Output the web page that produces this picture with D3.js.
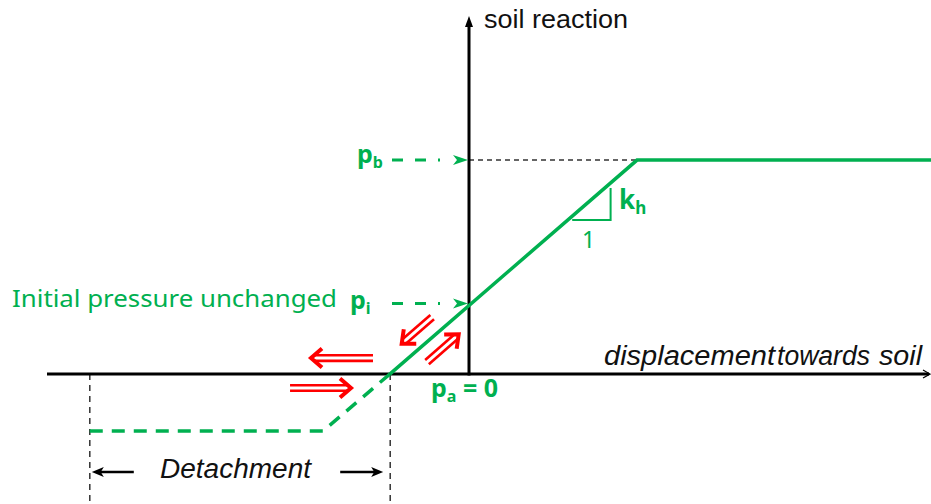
<!DOCTYPE html>
<html>
<head>
<meta charset="utf-8">
<script src="https://cdn.jsdelivr.net/npm/d3@7"></script>
<style>
  body { margin: 0; background: #fff; }
</style>
</head>
<body>
<div id="chart"></div>
<script>
// displacement towards soil (x) and soil reaction (y), reaction scaled so that p_b = 1
let loadingX = [-0.99, 2.1, 5.8];
let loadingY = [0, 1, 1];
let detachX = [-0.99, -1.825, -4.74];
let detachY = [0, -0.266, -0.266];
let levelNames = ['b', 'i'];
let levelValues = [1, 0.33];
let detachBounds = [-4.74, -0.985];
// red double arrows, tail and tip in chart units
let arrowTails = [[-1.2, 0.075], [-2.237, -0.065], [-0.46, 0.266], [-0.525, 0.056]];
let arrowTips = [[-2.0, 0.075], [-1.45, -0.065], [-0.86, 0.136], [-0.11, 0.192]];

let width = 931,
  height = 504;
let green = '#00b050';

let x = d3.scaleLinear().domain([-5.275, 5.775]).range([47, 931]);
let y = d3.scaleLinear().domain([-0.607, 1.67]).range([504, 16.7]);

let line = d3.line()
  .x(d => x(d[0]))
  .y(d => y(d[1]));

function chart() {
  const svg = d3.select('#chart').append('svg')
    .attr('width', width)
    .attr('height', height)
    .style('font-family', '"Liberation Sans", Arial, sans-serif');

  // dashed guides
  svg.append('line')
    .attr('x1', x(0)).attr('x2', x(loadingX[1]))
    .attr('y1', y(levelValues[0])).attr('y2', y(levelValues[0]))
    .attr('stroke', '#333').attr('stroke-width', 1.5)
    .attr('stroke-dasharray', '5,4');

  svg.selectAll('.bound')
    .data(detachBounds)
    .enter().append('line')
      .attr('class', 'bound')
      .attr('x1', d => x(d)).attr('x2', d => x(d))
      .attr('y1', y(0)).attr('y2', height)
      .attr('stroke', '#333').attr('stroke-width', 1.5)
      .attr('stroke-dasharray', '6,5');

  // axes
  svg.append('line')
    .attr('x1', 47).attr('x2', 929)
    .attr('y1', y(0)).attr('y2', y(0))
    .attr('stroke', '#000').attr('stroke-width', 3);
  svg.append('path')
    .attr('d', `M${923},${y(0) - 4}L${930},${y(0)}L${923},${y(0) + 4}`)
    .attr('fill', 'none').attr('stroke', '#000').attr('stroke-width', 1.2);

  svg.append('line')
    .attr('x1', x(0)).attr('x2', x(0))
    .attr('y1', y(0) + 1.5).attr('y2', 24)
    .attr('stroke', '#000').attr('stroke-width', 3);
  svg.append('path')
    .attr('d', `M${x(0)},16L${x(0) + 4},27L${x(0) - 4},27Z`)
    .attr('fill', '#000');

  // soil reaction curve
  svg.append('path')
    .attr('d', line(d3.zip(loadingX, loadingY)))
    .attr('fill', 'none').attr('stroke', green).attr('stroke-width', 3.5);

  svg.append('path')
    .attr('d', line(d3.zip(detachX, detachY)))
    .attr('fill', 'none').attr('stroke', green).attr('stroke-width', 3.5)
    .attr('stroke-dasharray', '13,9');

  // slope triangle
  const tx1 = x(1.29), tx2 = x(1.77);
  const ty1 = y(0.72), ty2 = y(0.87);
  svg.append('path')
    .attr('d', `M${tx1},${ty1}L${tx2},${ty1}L${tx2},${ty2}`)
    .attr('fill', 'none').attr('stroke', green).attr('stroke-width', 2);

  // green dashed pointers to p_b and p_i
  levelValues.forEach(v => {
    const yy = y(v);
    svg.append('line')
      .attr('x1', 392).attr('x2', 440)
      .attr('y1', yy).attr('y2', yy)
      .attr('stroke', green).attr('stroke-width', 3)
      .attr('stroke-dasharray', '11,12');
    svg.append('path')
      .attr('d', `M${x(0) - 16},${yy - 5}L${x(0) - 1},${yy}L${x(0) - 16},${yy + 5}L${x(0) - 12},${yy}Z`)
      .attr('fill', green);
  });

  // red double arrows
  const arrows = d3.zip(arrowTails, arrowTips).map(([a, b]) => {
    const x1 = x(a[0]), y1 = y(a[1]), x2 = x(b[0]), y2 = y(b[1]);
    const len = Math.hypot(x2 - x1, y2 - y1);
    const ux = (x2 - x1) / len, uy = (y2 - y1) / len;
    return {x1, y1, x2, y2, ux, uy, nx: -uy, ny: ux};
  });
  const ag = svg.append('g')
    .attr('stroke', '#ff0000').attr('fill', 'none');
  arrows.forEach(a => {
    [-2.8, 2.8].forEach(o => {
      ag.append('line')
        .attr('x1', a.x1 + a.nx * o).attr('y1', a.y1 + a.ny * o)
        .attr('x2', a.x2 - a.ux * 5 + a.nx * o).attr('y2', a.y2 - a.uy * 5 + a.ny * o)
        .attr('stroke-width', 2.6);
    });
    const bx = a.x2 - a.ux * 13, by = a.y2 - a.uy * 13;
    ag.append('path')
      .attr('d', `M${bx + a.nx * 9.5},${by + a.ny * 9.5}L${a.x2 - a.ux * 2},${a.y2 - a.uy * 2}L${bx - a.nx * 9.5},${by - a.ny * 9.5}`)
      .attr('stroke-width', 4)
      .attr('stroke-linejoin', 'miter');
  });

  // detachment arrows
  const dy = 472;
  [[x(detachBounds[0]) + 44, x(detachBounds[0]) + 2], [x(detachBounds[1]) - 50, x(detachBounds[1]) - 7]].forEach(([a, b]) => {
    const s = Math.sign(b - a);
    svg.append('line')
      .attr('x1', a).attr('x2', b - s * 6)
      .attr('y1', dy).attr('y2', dy)
      .attr('stroke', '#000').attr('stroke-width', 2.6);
    svg.append('path')
      .attr('d', `M${b - s * 12},${dy - 5}L${b},${dy}L${b - s * 12},${dy + 5}L${b - s * 9},${dy}Z`)
      .attr('fill', '#000');
  });

  // black labels
  svg.append('text')
    .attr('x', x(0) + 15).attr('y', 28)
    .style('font-size', '26px').attr('fill', '#111')
    .attr('textLength', 144).attr('lengthAdjust', 'spacingAndGlyphs')
    .text('soil reaction');

  const dl = svg.append('text')
    .attr('y', 365)
    .style('font-size', '27px').style('font-style', 'italic').attr('fill', '#111');
  dl.append('tspan').attr('x', 604).attr('textLength', 171).attr('lengthAdjust', 'spacingAndGlyphs').text('displacement');
  dl.append('tspan').attr('x', 777).attr('textLength', 93).attr('lengthAdjust', 'spacingAndGlyphs').text('towards');
  dl.append('tspan').attr('x', 879).attr('textLength', 43).attr('lengthAdjust', 'spacingAndGlyphs').text('soil');

  svg.append('text')
    .attr('x', 160).attr('y', 478)
    .style('font-size', '27px').style('font-style', 'italic').attr('fill', '#111')
    .attr('textLength', 151).attr('lengthAdjust', 'spacingAndGlyphs')
    .text('Detachment');

  // green labels
  const gt = svg.append('g')
    .attr('fill', green)
    .style('font-family', '"Noto Sans", "Open Sans", sans-serif');

  gt.append('text')
    .attr('x', 12).attr('y', 307)
    .style('font-size', '23px')
    .attr('textLength', 325).attr('lengthAdjust', 'spacingAndGlyphs')
    .text('Initial pressure unchanged');

  const sub = (px, py, main, s, extra) => {
    const t = gt.append('text')
      .attr('x', px).attr('y', py)
      .style('font-size', '25px').style('font-weight', 'bold');
    t.append('tspan').text(main);
    t.append('tspan').attr('dy', 5).style('font-size', '16px').text(s);
    if (extra) t.append('tspan').attr('dy', -5).text(extra);
    return t;
  };
  sub(357, y(levelValues[0]) + 3, 'p', levelNames[0]);
  sub(350, y(levelValues[1]) + 6, 'p', levelNames[1]);
  sub(431, 397, 'p', 'a', ' = 0');

  const kt = gt.append('text')
    .attr('x', 619).attr('y', 209)
    .style('font-size', '26px').style('font-weight', 'bold');
  kt.append('tspan').text('k');
  kt.append('tspan').attr('dy', 5).style('font-size', '17px').text('h');

  gt.append('text')
    .attr('x', 582).attr('y', 248)
    .style('font-size', '23px')
    .text('1');

  return svg.node();
}

chart();
</script>
</body>
</html>
